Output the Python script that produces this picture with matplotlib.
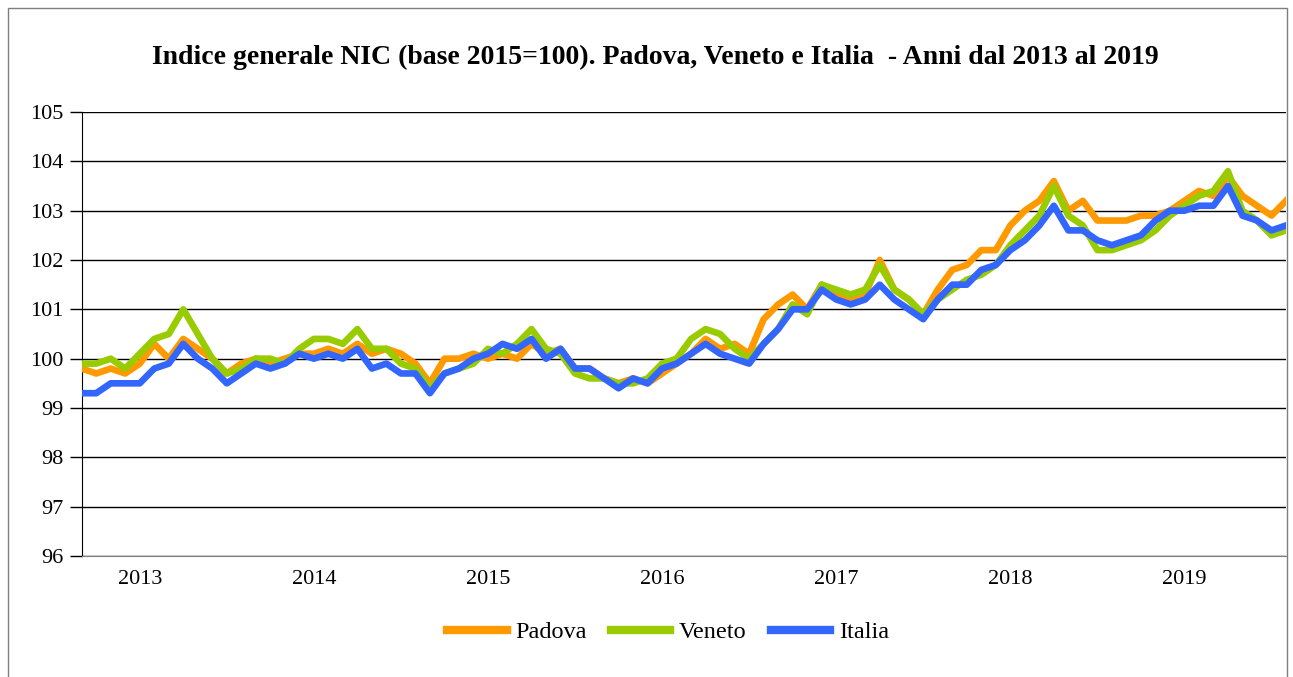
import matplotlib.pyplot as plt
from matplotlib.patches import Rectangle
import numpy as np

# Indice NIC mensile (base 2015=100)
padova = [99.8, 99.7, 99.8, 99.7, 99.9, 100.3, 100.0, 100.4, 100.2, 100.0, 99.7, 99.9,
          100.0, 99.9, 100.0, 100.1, 100.1, 100.2, 100.1, 100.3, 100.1, 100.2, 100.1, 99.9,
          99.5, 100.0, 100.0, 100.1, 100.0, 100.1, 100.0, 100.3, 100.1, 100.2, 99.8, 99.8,
          99.6, 99.5, 99.6, 99.5, 99.7, 99.9, 100.1, 100.4, 100.2, 100.3, 100.1, 100.8,
          101.1, 101.3, 101.0, 101.5, 101.3, 101.2, 101.3, 102.0, 101.4, 101.2, 100.9, 101.4,
          101.8, 101.9, 102.2, 102.2, 102.7, 103.0, 103.2, 103.6, 103.0, 103.2, 102.8, 102.8,
          102.8, 102.9, 102.9, 103.0, 103.2, 103.4, 103.3, 103.7, 103.3, 103.1, 102.9, 103.2]
veneto = [99.9, 99.9, 100.0, 99.8, 100.1, 100.4, 100.5, 101.0, 100.5, 100.0, 99.7, 99.8,
          100.0, 100.0, 99.9, 100.2, 100.4, 100.4, 100.3, 100.6, 100.2, 100.2, 99.9, 99.8,
          99.4, 99.7, 99.8, 99.9, 100.2, 100.1, 100.3, 100.6, 100.2, 100.1, 99.7, 99.6,
          99.6, 99.5, 99.5, 99.6, 99.9, 100.0, 100.4, 100.6, 100.5, 100.2, 100.0, 100.3,
          100.6, 101.1, 100.9, 101.5, 101.4, 101.3, 101.4, 101.9, 101.4, 101.2, 100.9, 101.2,
          101.4, 101.6, 101.7, 101.9, 102.3, 102.6, 102.9, 103.5, 102.9, 102.7, 102.2, 102.2,
          102.3, 102.4, 102.6, 102.9, 103.1, 103.3, 103.4, 103.8, 103.0, 102.8, 102.5, 102.6]
italia = [99.3, 99.3, 99.5, 99.5, 99.5, 99.8, 99.9, 100.3, 100.0, 99.8, 99.5, 99.7,
          99.9, 99.8, 99.9, 100.1, 100.0, 100.1, 100.0, 100.2, 99.8, 99.9, 99.7, 99.7,
          99.3, 99.7, 99.8, 100.0, 100.1, 100.3, 100.2, 100.4, 100.0, 100.2, 99.8, 99.8,
          99.6, 99.4, 99.6, 99.5, 99.8, 99.9, 100.1, 100.3, 100.1, 100.0, 99.9, 100.3,
          100.6, 101.0, 101.0, 101.4, 101.2, 101.1, 101.2, 101.5, 101.2, 101.0, 100.8, 101.2,
          101.5, 101.5, 101.8, 101.9, 102.2, 102.4, 102.7, 103.1, 102.6, 102.6, 102.4, 102.3,
          102.4, 102.5, 102.8, 103.0, 103.0, 103.1, 103.1, 103.5, 102.9, 102.8, 102.6, 102.7]
anni = ['2013', '2014', '2015', '2016', '2017', '2018', '2019']

plt.rcParams['font.family'] = ['Liberation Serif', 'DejaVu Serif']

colors = {'padova': '#FF9900', 'veneto': '#99CC00', 'italia': '#3366FF'}

fig = plt.figure(figsize=(12.93, 6.77), dpi=100)
ax = fig.add_axes([81.7 / 1293, 1 - 556 / 677, (1286 - 81.7) / 1293, 444 / 677])

# bordo esterno del grafico
fig.patches.append(Rectangle((8 / 1293, -0.01), 1279 / 1293, 1 - 8 / 677 + 0.01,
                             transform=fig.transFigure, fill=False,
                             edgecolor='#7f7f7f', linewidth=1))

mesi = np.arange(len(italia))
ax.plot(mesi, padova, color=colors['padova'], linewidth=4.8, label='Padova', zorder=3)
ax.plot(mesi, veneto, color=colors['veneto'], linewidth=4.8, label='Veneto', zorder=4)
ax.plot(mesi, italia, color=colors['italia'], linewidth=4.8, label='Italia', zorder=5)

ax.set_xlim(0, len(italia) - 1)
ax.set_ylim(96, 105)
ax.set_yticks(np.arange(96, 106, 1))
ax.set_xticks(np.arange(len(anni)) * 12 + 4)
ax.set_xticklabels(anni)
ax.tick_params(axis='x', length=0, labelsize=16, pad=10)
ax.tick_params(axis='y', length=9, width=1, labelsize=16, pad=4)
ax.grid(axis='y', color='black', linewidth=1)
ax.set_axisbelow(True)

for side in ['top', 'right']:
    ax.spines[side].set_visible(False)
ax.spines['left'].set_color('black')
ax.spines['bottom'].set_color('#7f7f7f')

fig.suptitle('Indice generale NIC (base 2015=100). Padova, Veneto e Italia  - Anni dal 2013 al 2019',
             x=655 / 1293, y=1 - 57 / 677, va='center', fontsize=20, fontweight='bold')

leg = fig.legend(loc='center', bbox_to_anchor=(668 / 1293, 1 - 632 / 677), ncol=3,
                 frameon=False, fontsize=17.5, handlelength=2.45, columnspacing=1.0,
                 handletextpad=0.35)
for line in leg.get_lines():
    line.set_linewidth(6)

plt.savefig('out.png', dpi=100)
